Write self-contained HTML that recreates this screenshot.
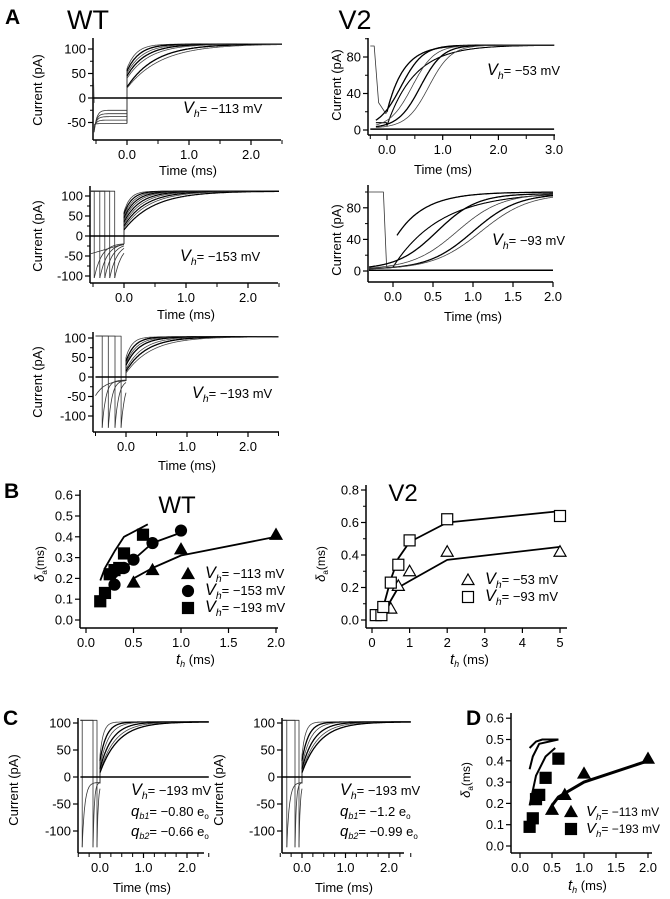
<!DOCTYPE html>
<html><head><meta charset="utf-8">
<style>
html,body{margin:0;padding:0;background:#fff;}
svg{display:block;font-family:"Liberation Sans",sans-serif;}
</style></head>
<body>
<svg id="fig" width="670" height="899" viewBox="0 0 670 899"></svg>
<script>
// ---------- data arrays ----------
const wtTriX=[0.5,0.7,1.0,2.0], wtTriY=[0.18,0.24,0.34,0.41];
const wtTriFitX=[0.5,0.7,1.0,2.0], wtTriFitY=[0.2,0.25,0.31,0.40];
const wtCirX=[0.3,0.4,0.5,0.7,1.0], wtCirY=[0.17,0.25,0.29,0.37,0.43];
const wtCirFitX=[0.3,0.5,0.7,1.0], wtCirFitY=[0.2,0.29,0.37,0.42];
const wtSqX=[0.15,0.2,0.25,0.3,0.35,0.4,0.6], wtSqY=[0.09,0.13,0.22,0.24,0.25,0.32,0.41];
const wtSqFitX=[0.15,0.2,0.3,0.4,0.65], wtSqFitY=[0.19,0.25,0.33,0.40,0.46];
const v2SqX=[0.1,0.25,0.3,0.5,0.7,1,2,5], v2SqY=[0.03,0.03,0.08,0.23,0.34,0.49,0.62,0.64];
const v2SqFitX=[0.3,0.5,0.7,1,2,5], v2SqFitY=[0.08,0.25,0.38,0.48,0.60,0.67];
const v2TriX=[0.5,0.7,1,2,5], v2TriY=[0.07,0.21,0.30,0.42,0.42];
const v2TriFitX=[0.4,0.7,1,2,5], v2TriFitY=[0.08,0.2,0.24,0.37,0.45];
const dTriX=[0.5,0.7,1.0,2.0], dTriY=[0.17,0.24,0.34,0.41];
const dTriFitX=[0.5,0.6,1.0,2.0], dTriFitY=[0.19,0.23,0.30,0.40];
const dSqX=[0.15,0.2,0.25,0.3,0.4,0.6], dSqY=[0.09,0.13,0.22,0.24,0.32,0.41];
const dFit1X=[0.15,0.25,0.4,0.55], dFit1Y=[0.19,0.33,0.42,0.46];
const dFit2X=[0.15,0.2,0.3,0.6], dFit2Y=[0.36,0.42,0.48,0.50];
const dFit3X=[0.15,0.25,0.35,0.6], dFit3Y=[0.46,0.49,0.50,0.50];
// trace parameters
const wt1Start=[60,55,50,45,40,22,20], wt1Tau=[0.15,0.2,0.25,0.3,0.36,0.45,0.55];
const wt1Pre=[-25,-32,-38,-45,-52];
const wt2Pulse=[-0.48,-0.39,-0.31,-0.23,-0.15];
const wt2Start=[60,55,50,45,40,35,30,25,20,15], wt2Tau=[0.1,0.13,0.16,0.19,0.22,0.26,0.3,0.35,0.4,0.48];
const wt3Pulse=[-0.39,-0.29,-0.18,-0.08];
const wt3Start=[50,40,35,30,20,15,10], wt3Tau=[0.1,0.14,0.18,0.22,0.28,0.34,0.42];
const v2aT50=[0.25,0.45,0.6,0.75], v2aK=[0.2,0.2,0.2,0.2];
const v2bT50=[0.55,0.8,1.0,1.1], v2bK=[0.25,0.28,0.28,0.3];
const cLPulse=[-0.41,-0.16,-0.07], cRPulse=[-0.35,-0.16,-0.07];
const cStart=[40,30,20,15,10,8], cTau=[0.08,0.15,0.2,0.28,0.35,0.42];

const NS='http://www.w3.org/2000/svg';
const svg=document.getElementById('fig');
function el(tag,attrs,parent){const e=document.createElementNS(NS,tag);for(const k in attrs)e.setAttribute(k,attrs[k]);(parent||svg).appendChild(e);return e;}
function txt(x,y,s,size,anchor,parent,extra){const t=el('text',Object.assign({x:x,y:y,'font-size':size,'text-anchor':anchor||'middle',fill:'#000'},extra||{}),parent);t.textContent=s;return t;}

function makeAxes(p){
  const g=el('g',{});
  
  
  const X=v=>p.x0+v*p.sx, Y=v=>p.y0-v*p.sy;
  const ya=el('line',{x1:p.ax,y1:p.yTop,x2:p.ax,y2:p.ay,stroke:'#000','stroke-width':1.5},g);
  
  
  const xa=el('line',{x1:p.ax,y1:p.ay,x2:p.xEnd,y2:p.ay,stroke:'#000','stroke-width':1.5},g);
  
  
  p.yt.forEach((v,i)=>{el('line',{x1:p.ax-5,y1:Y(v),x2:p.ax,y2:Y(v),stroke:'#000','stroke-width':1.2},g);
    const t=txt(p.ax-7,Y(v)+4.5,p.ytl[i],13,'end',g);
    
    });
  (p.ym||[]).forEach(v=>el('line',{x1:p.ax-3,y1:Y(v),x2:p.ax,y2:Y(v),stroke:'#000','stroke-width':1},g));
  p.xt.forEach((v,i)=>{el('line',{x1:X(v),y1:p.ay,x2:X(v),y2:p.ay+5,stroke:'#000','stroke-width':1.2},g);
    const t=txt(X(v),p.ay+19,p.xtl[i],13,'middle',g);
    
    });
  (p.xm||[]).forEach(v=>el('line',{x1:X(v),y1:p.ay,x2:X(v),y2:p.ay+4,stroke:'#000','stroke-width':1},g));
  return {g:g,X:X,Y:Y};
}
function poly(A,pts,w,col){const d=pts.map((q,i)=>(i?'L':'M')+A.X(q[0]).toFixed(1)+' '+A.Y(q[1]).toFixed(1)).join('');return el('path',{d:d,fill:'none',stroke:col||'#000','stroke-width':w||1,'stroke-linejoin':'round'},A.g);}
function curve(A,t0,t1,f,w,col){const pts=[];for(let t=t0;t<=t1+1e-9;t+=0.01)pts.push([t,f(t)]);return poly(A,pts,w,col);}
function ylab(x,y,s){const t=txt(x,y,s,13,'middle',svg,{transform:'rotate(-90 '+x+' '+y+')'});}
function xlab(x,y){const t=txt(x,y,'Time (ms)',13,'middle');}
function vh(x,y,val,size){const t=el('text',{x:x,y:y,'font-size':size||13,fill:'#000'});
  
  
  const a=el('tspan',{'font-style':'italic','font-size':(size||13)*1.25},t);a.textContent='V';
  const b=el('tspan',{'font-style':'italic','font-size':(size||13)*0.8,dy:4},t);b.textContent='h';
  const c=el('tspan',{dy:-4},t);c.textContent='= \u2212'+val+' mV';return t;}
function qlab(x,y,sub,val){const t=el('text',{x:x,y:y,'font-size':13,fill:'#000'});
  
  
  const a=el('tspan',{'font-style':'italic','font-size':15},t);a.textContent='q';
  const b=el('tspan',{'font-style':'italic','font-size':9,dy:3},t);b.textContent=sub;
  const c=el('tspan',{dy:-3},t);c.textContent='= \u2212'+val+' e';
  const d=el('tspan',{'font-size':8,dy:3},t);d.textContent='o';}
function bold(x,y,s,size){const t=txt(x,y,s,size,'start',svg,{'font-weight':'bold'});}
function marker(A,type,x,y,filled){const cx=A.X(x),cy=A.Y(y);let m;const f=filled?'#000':'#fff';
  if(type==='tri')m=el('path',{d:`M${cx} ${cy-6}L${cx+6} ${cy+4.5}L${cx-6} ${cy+4.5}Z`,fill:f,stroke:'#000','stroke-width':1.2},A.g);
  else if(type==='sq')m=el('rect',{x:cx-5.5,y:cy-5.5,width:11,height:11,fill:f,stroke:'#000','stroke-width':1.2},A.g);
  else m=el('circle',{cx:cx,cy:cy,r:5.5,fill:f,stroke:'#000','stroke-width':1.2},A.g);
  
  }
function legend(x,y,type,filled,val,size){const A={X:v=>v,Y:v=>v,g:svg};marker(A,type,x,y-4,filled);vh(x+(size?15:17),y,val,size||13);}
function thlab(x,y){const t=el('text',{x:x,y:y,'font-size':13,fill:'#000'});const a=el('tspan',{'font-style':'italic','font-size':15},t);a.textContent='t';const b=el('tspan',{'font-style':'italic','font-size':9,dy:3},t);b.textContent='h';const c=el('tspan',{dy:-3},t);c.textContent=' (ms)';}
function dlab(x,y){const t=el('text',{x:x,y:y,'font-size':12,fill:'#000',transform:'rotate(-90 '+x+' '+y+')','text-anchor':'middle'});const a=el('tspan',{'font-style':'italic','font-size':13},t);a.textContent='\u03b4';const b=el('tspan',{'font-size':8,dy:3},t);b.textContent='a';const c=el('tspan',{dy:-3},t);c.textContent='(ms)';}

// ---------- titles ----------
bold(5,24,'A',21); txt(88,29,'WT',27,'middle');
txt(355,29,'V2',27,'middle');
bold(4,498,'B',21); bold(3,725,'C',21); bold(466,725,'D',21);

// ---------- WT1 ----------
let A=makeAxes({name:'wt-113-chart',x0:127,sx:62,y0:98,sy:0.49,ax:93,ay:140,yTop:38,xEnd:281,yt:[100,50,0,-50],ytl:['100','50','0','-50'],ym:[75,25,-25],xt:[0,1,2],xtl:['0.0','1.0','2.0'],xm:[-0.5,0.5,1.5,2.5]});
wt1Pre.forEach((lv,i)=>curve(A,-0.53,0,t=>lv+(-70+i*4-lv)*Math.exp(-(t+0.53)/0.04),0.8,'#333'));
poly(A,[[-0.54,-40],[-0.54,40],[-0.53,-10]],0.8,'#333');
wt1Start.forEach((s,i)=>{poly(A,[[0,wt1Pre[Math.min(i,4)]],[0,s]],0.8,'#333');curve(A,0,2.5,t=>110-(110-s)*Math.exp(-t/wt1Tau[i]),i%2?1.3:0.8,i%2?'#000':'#444');});
poly(A,[[-0.55,0],[2.5,0]],1.5);
ylab(42,90,'Current (pA)'); xlab(188,175); vh(183,113,'113');

// ---------- WT2 ----------
A=makeAxes({name:'wt-153-chart',x0:124,sx:62,y0:236,sy:0.4,ax:90,ay:283,yTop:186,xEnd:278,yt:[100,50,0,-50,-100],ytl:['100','50','0','-50','-100'],ym:[75,25,-25,-75],xt:[0,1,2],xtl:['0.0','1.0','2.0'],xm:[-0.5,0.5,1.5,2.5]});
wt2Pulse.forEach(ts=>{poly(A,[[-0.55,112],[ts,112],[ts,-105]],0.8,'#333');curve(A,ts,0,t=>-18-(87)*Math.exp(-(t-ts)/0.12),0.8,'#333');});
curve(A,-0.55,0,t=>-45+25*(t+0.55)/0.55,0.8,'#333');
wt2Start.forEach((s,i)=>{poly(A,[[0,-20],[0,s]],0.8,'#333');curve(A,0,2.5,t=>112-(112-s)*Math.exp(-t/wt2Tau[i]),i%2?1.2:0.8,i%2?'#000':'#444');});
poly(A,[[-0.55,0],[2.5,0]],1.5);
ylab(42,236,'Current (pA)'); xlab(186,319); vh(180,261,'153');

// ---------- WT3 ----------
A=makeAxes({name:'wt-193-chart',x0:126,sx:61,y0:377,sy:0.39,ax:93,ay:432,yTop:332,xEnd:279,yt:[100,50,0,-50,-100],ytl:['100','50','0','-50','-100'],ym:[75,25,-25,-75],xt:[0,1,2],xtl:['0.0','1.0','2.0'],xm:[-0.5,0.5,1.5,2.5]});
wt3Pulse.forEach(ts=>{poly(A,[[-0.5,105],[ts,105],[ts,-130]],0.8,'#333');curve(A,ts,0,t=>-8-122*Math.exp(-(t-ts)/0.06),0.8,'#333');});
curve(A,-0.5,0,t=>-48+40*(1-Math.exp(-(t+0.5)/0.15)),0.8,'#333');
wt3Start.forEach((s,i)=>{poly(A,[[0,-10],[0,s]],0.8,'#333');curve(A,0,2.5,t=>103-(103-s)*Math.exp(-t/wt3Tau[i]),i%2?1.3:0.8,i%2?'#000':'#444');});
poly(A,[[-0.5,0],[2.5,0]],1.5);
ylab(42,382,'Current (pA)'); xlab(187,470); vh(192,398,'193');

// ---------- V2 a ----------
A=makeAxes({name:'v2-53-chart',x0:387,sx:55.7,y0:130,sy:0.9125,ax:368,ay:135,yTop:38,xEnd:555,yt:[80,40,0],ytl:['80','40','0'],ym:[100,60,20],xt:[0,1,2,3],xtl:['0.0','1.0','2.0','3.0'],xm:[-0.3,0.5,1.5,2.5]});
poly(A,[[-0.3,92],[-0.23,92],[-0.15,30],[-0.02,18],[0,20]],0.8,'#333');
curve(A,0,3,t=>93-73*Math.exp(-t/0.3),1.3);
curve(A,-0.2,3,t=>t<0?8:93-88*Math.exp(-t/0.5),1.1);
v2aT50.forEach((c,i)=>curve(A,-0.2,3,t=>2+91/(1+Math.exp(-(t-c)/v2aK[i])),i%2?0.8:1.3,i%2?'#444':'#000'));
poly(A,[[-0.3,1],[3,1]],1.5);
ylab(341,85,'Current (pA)'); xlab(443,174); vh(487,75,'53');

// ---------- V2 b ----------
A=makeAxes({name:'v2-93-chart',x0:393,sx:80,y0:271,sy:0.79,ax:368,ay:282,yTop:185,xEnd:553,yt:[80,40,0],ytl:['80','40','0'],ym:[100,60,20],xt:[0,0.5,1,1.5,2],xtl:['0.0','0.5','1.0','1.5','2.0'],xm:[]});
poly(A,[[-0.3,100],[-0.12,100],[-0.08,5],[0,5]],0.8,'#333');
curve(A,0.05,2,t=>100-55*Math.exp(-(t-0.05)/0.35),1.3);
curve(A,0,2,t=>100-95*Math.exp(-t/0.6),1.1);
v2bT50.forEach((c,i)=>curve(A,-0.3,2,t=>2+96/(1+Math.exp(-(t-c)/v2bK[i])),i%2?0.8:1.3,i%2?'#444':'#000'));
poly(A,[[-0.3,1],[2,1]],1.5);
ylab(341,240,'Current (pA)'); xlab(473,321); vh(492,245,'93');

// ---------- B WT ----------
A=makeAxes({name:'wt-delay-chart',x0:86,sx:95,y0:620,sy:208,ax:80,ay:628,yTop:490,xEnd:278,yt:[0,0.1,0.2,0.3,0.4,0.5,0.6],ytl:['0.0','0.1','0.2','0.3','0.4','0.5','0.6'],xt:[0,0.5,1,1.5,2],xtl:['0.0','0.5','1.0','1.5','2.0']});
poly(A,wtTriFitX.map((x,i)=>[x,wtTriFitY[i]]),1.8);
poly(A,wtCirFitX.map((x,i)=>[x,wtCirFitY[i]]),1.8);
poly(A,wtSqFitX.map((x,i)=>[x,wtSqFitY[i]]),1.8);
wtTriX.forEach((x,i)=>marker(A,'tri',x,wtTriY[i],true));
wtCirX.forEach((x,i)=>marker(A,'cir',x,wtCirY[i],true));
wtSqX.forEach((x,i)=>marker(A,'sq',x,wtSqY[i],true));
txt(177,513,'WT',24,'middle');
legend(188,578,'tri',true,'113'); legend(188,595,'cir',true,'153'); legend(188,612,'sq',true,'193');
thlab(176,664); dlab(44,564);

// ---------- B V2 ----------
A=makeAxes({name:'v2-delay-chart',x0:372,sx:37.6,y0:620,sy:162.5,ax:366,ay:628,yTop:485,xEnd:567,yt:[0,0.2,0.4,0.6,0.8],ytl:['0.0','0.2','0.4','0.6','0.8'],ym:[0.1,0.3,0.5,0.7],xt:[0,1,2,3,4,5],xtl:['0','1','2','3','4','5']});
poly(A,v2SqFitX.map((x,i)=>[x,v2SqFitY[i]]),1.8);
poly(A,v2TriFitX.map((x,i)=>[x,v2TriFitY[i]]),1.8);
v2TriX.forEach((x,i)=>marker(A,'tri',x,v2TriY[i],false));
v2SqX.forEach((x,i)=>marker(A,'sq',x,v2SqY[i],false));
txt(403,501,'V2',24,'middle');
legend(468,584,'tri',false,'53'); legend(468,601,'sq',false,'93');
thlab(450,664); dlab(325,564);

// ---------- C panels ----------
function cPanel(name,ax,x0,xEnd,pulses){
  const A=makeAxes({name:name,x0:x0,sx:43.5,y0:777,sy:0.54,ax:ax,ay:853,yTop:718,xEnd:xEnd,yt:[100,50,0,-50,-100],ytl:['100','50','0','-50','-100'],xt:[0,1,2],xtl:['0.0','1.0','2.0'],xm:[-0.5,-0.25,0.25,0.5,0.75,1.25,1.5,1.75,2.25,2.5]});
  pulses.forEach((ts,i)=>{poly(A,[[-0.45,105],[ts,105],[ts,-130]],0.8,'#333');curve(A,ts,0,t=>-10-120*Math.exp(-(t-ts)/(i?0.03:0.06)),0.8,'#333');});
  cStart.forEach((s,i)=>{poly(A,[[0,-12],[0,s]],0.8,'#333');curve(A,0,2.5,t=>102-(102-s)*Math.exp(-t/cTau[i]),i%2?1.3:0.8,i%2?'#000':'#444');});
  poly(A,[[-0.45,0],[2.5,0]],1.5);
  return A;
}
cPanel('c-left-chart',78,100,204,cLPulse);
cPanel('c-right-chart',282,302,404,cRPulse);
ylab(18,790,'Current (pA)'); ylab(223,790,'Current (pA)');
xlab(142,892); xlab(344,892);
vh(131,795,'193'); qlab(131,816,'b1','0.80'); qlab(131,836,'b2','0.66');
vh(340,795,'193'); qlab(340,816,'b1','1.2'); qlab(340,836,'b2','0.99');

// ---------- D ----------
A=makeAxes({name:'d-delay-chart',x0:520,sx:64,y0:846,sy:213,ax:511,ay:853,yTop:713,xEnd:652,yt:[0,0.1,0.2,0.3,0.4,0.5,0.6],ytl:['0.0','0.1','0.2','0.3','0.4','0.5','0.6'],xt:[0,0.5,1,1.5,2],xtl:['0.0','0.5','1.0','1.5','2.0']});
poly(A,dTriFitX.map((x,i)=>[x,dTriFitY[i]]),3);
poly(A,dFit1X.map((x,i)=>[x,dFit1Y[i]]),2);
poly(A,dFit2X.map((x,i)=>[x,dFit2Y[i]]),2);
poly(A,dFit3X.map((x,i)=>[x,dFit3Y[i]]),2);
dTriX.forEach((x,i)=>marker(A,'tri',x,dTriY[i],true));
dSqX.forEach((x,i)=>marker(A,'sq',x,dSqY[i],true));
legend(571,816,'tri',true,'113',12); legend(571,833,'sq',true,'193',12);
thlab(568,890); dlab(470,780);
</script>
</body></html>
